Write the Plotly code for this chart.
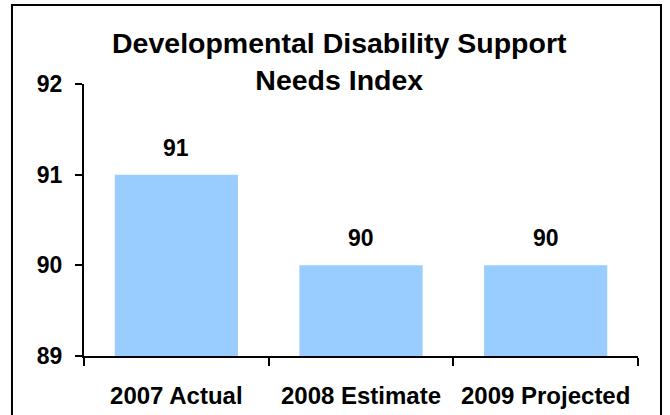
import plotly.graph_objects as go

categories = ["2007 Actual", "2008 Estimate", "2009 Projected"]
values = [91, 90, 90]
y_ticks = [89, 90, 91, 92]
title_lines = ["Developmental Disability Support", "Needs Index"]

FONT = "Liberation Sans, Arial, sans-serif"
BAR_COLOR = "#99CCFF"

fig = go.Figure()
fig.add_trace(go.Bar(
    x=categories,
    y=values,
    marker=dict(color=BAR_COLOR, line=dict(width=0)),
    width=0.667,
    hoverinfo="skip",
))

# data labels above bars
for c, v in zip(categories, values):
    fig.add_annotation(
        x=c, y=v, xref="x", yref="y",
        text=str(v), showarrow=False,
        yanchor="bottom", yshift=12,
        font=dict(family=FONT, size=23, color="black", weight="bold"),
    )

fig.add_annotation(
    x=0.462, y=1.083, xref="paper", yref="paper",
    text="<br>".join(title_lines), showarrow=False,
    xanchor="center", yanchor="middle", align="center",
    font=dict(family=FONT, size=28.5, color="black", weight="bold"),
)

# outer border
fig.add_shape(
    type="rect", xref="paper", yref="paper",
    x0=-0.13, x1=1.0415, y0=-0.25, y1=1.29,
    line=dict(color="black", width=2), fillcolor="rgba(0,0,0,0)",
    layer="above",
)

fig.update_layout(
    width=670, height=415,
    margin=dict(l=84, r=32, t=84, b=59),
    paper_bgcolor="white", plot_bgcolor="white",
    showlegend=False,
    font=dict(family=FONT, color="black"),
)
fig.update_xaxes(
    automargin=False,
    showline=True, linecolor="black", linewidth=2,
    ticks="outside", ticklen=8, tickwidth=2, tickcolor="black",
    tickson="boundaries",
    tickfont=dict(family=FONT, size=24, color="black", weight="bold"),
    ticklabelstandoff=17,
    showgrid=False, zeroline=False,
)
fig.update_yaxes(
    automargin=False,
    range=[89, 92], tickvals=y_ticks,
    showline=True, linecolor="black", linewidth=2,
    ticks="outside", ticklen=7, tickwidth=2, tickcolor="black",
    tickfont=dict(family=FONT, size=23, color="black", weight="bold"),
    ticklabelstandoff=8,
    showgrid=False, zeroline=False,
)

fig.write_html(
    "out.html",
    config={"displayModeBar": False},
    post_script="document.body.style.margin='0';",
)
